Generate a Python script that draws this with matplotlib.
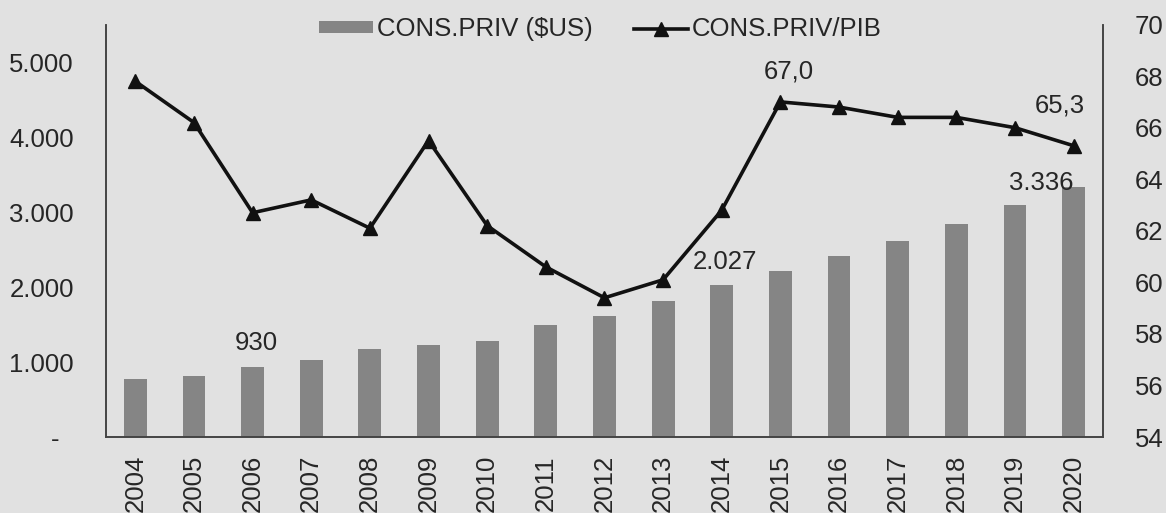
import matplotlib
matplotlib.use("Agg")
import matplotlib.pyplot as plt
from matplotlib.ticker import FuncFormatter

plt.rcParams["font.family"] = ["Liberation Sans", "DejaVu Sans"]

# ── Data ───────────────────────────────────────────────────────────────────────
years = [str(y) for y in range(2004, 2021)]
cons_priv = [770, 820, 930, 1030, 1170, 1225, 1285, 1490, 1615, 1815,
             2027, 2215, 2410, 2615, 2840, 3090, 3336]
cons_pib = [67.8, 66.2, 62.7, 63.2, 62.1, 65.5, 62.2, 60.6, 59.4, 60.1,
            62.8, 67.0, 66.8, 66.4, 66.4, 66.0, 65.3]

BG = "#e1e1e1"
BAR = "#858585"
TXT = "#262626"
FS = 18.5

fig = plt.figure(figsize=(11.66, 5.13), dpi=100, facecolor=BG)
ax = fig.add_axes([0.0909, 0.1481, 0.855, 0.804])
ax.set_facecolor(BG)
ax2 = ax.twinx()

x = range(len(years))
ax.bar(x, cons_priv, width=0.39, color=BAR, zorder=2, label="CONS.PRIV ($US)")
ax2.plot(x, cons_pib, color="#111111", lw=2.6, marker="^", ms=10,
         label="CONS.PRIV/PIB")

ax.set_xlim(-0.5, len(years) - 0.5)
ax.set_ylim(0, 5500)
ax2.set_ylim(54, 70)
ax.set_yticks([0, 1000, 2000, 3000, 4000, 5000])
ax2.set_yticks(range(54, 71, 2))

def miles(v, pos):
    if v == 0:
        return "-  "
    return f"{int(v):,}".replace(",", ".")

ax.yaxis.set_major_formatter(FuncFormatter(miles))
ax.set_xticks(list(x))
ax.set_xticklabels(years, rotation=90)

for a in (ax, ax2):
    a.tick_params(length=0, labelsize=FS, colors=TXT)
    a.spines["top"].set_visible(False)
    for s in ("left", "right", "bottom"):
        a.spines[s].set_color("#444444")
        a.spines[s].set_linewidth(1.2)
ax.tick_params(axis="y", pad=23)
ax.tick_params(axis="x", pad=13)
ax2.tick_params(axis="y", pad=23)

# ── Data labels ────────────────────────────────────────────────────────────────
lab = dict(textcoords="offset points", fontsize=FS, color=TXT)
ax.annotate("930", (2, cons_priv[2]), xytext=(3, 9), ha="center", va="bottom", **lab)
ax.annotate("2.027", (10, cons_priv[10]), xytext=(2, 8), ha="center", va="bottom", **lab)
ax.annotate("3.336", (16, cons_priv[16]), xytext=(-23, 3), ha="center", va="center", **lab)
ax2.annotate("67,0", (11, cons_pib[11]), xytext=(6, 22), ha="center", va="center", **lab)
ax2.annotate("65,3", (16, cons_pib[16]), xytext=(-10, 29), ha="center", va="center", **lab)

# ── Legend ─────────────────────────────────────────────────────────────────────
h1, l1 = ax.get_legend_handles_labels()
h2, l2 = ax2.get_legend_handles_labels()
fig.legend(h1 + h2, l1 + l2, loc="center", bbox_to_anchor=(0.515, 0.943),
           ncol=2, frameon=False, fontsize=FS, handlelength=2.1,
           handleheight=0.35, columnspacing=1.6, handletextpad=0.15,
           labelcolor=TXT, borderpad=0)

fig.savefig("out.png", dpi=100, facecolor=BG)
